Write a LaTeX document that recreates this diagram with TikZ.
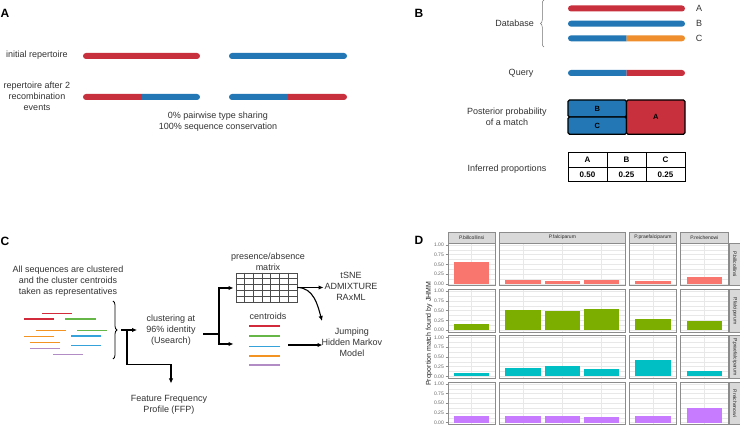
\documentclass[tikz,border=0pt]{standalone}
\usepackage{fontspec}
\setmainfont{Liberation Sans}
\usetikzlibrary{arrows.meta,decorations.pathreplacing,calc}
\definecolor{cred}{HTML}{C8303D}
\definecolor{cblue}{HTML}{2277B4}
\definecolor{corange}{HTML}{EE8E2C}
\definecolor{lred}{HTML}{D22A3A}
\definecolor{lgreen}{HTML}{66B547}
\definecolor{lorange}{HTML}{F39321}
\definecolor{lblue}{HTML}{35A2DA}
\definecolor{lpurple}{HTML}{B28CC4}
\definecolor{rc0}{HTML}{F8766D}
\definecolor{rc1}{HTML}{7CAE00}
\definecolor{rc2}{HTML}{00BFC4}
\definecolor{rc3}{HTML}{C77CFF}
\newcommand{\seqbar}[4]{\fill[#4, rounded corners=3pt] (#1,#3-3) rectangle (#2,#3+3);}
\newcommand{\splitbar}[6]{%
  \begin{scope}\clip (#1-1,#4-4) rectangle (#2,#4+4);
    \fill[#5, rounded corners=3pt] (#1,#4-3) rectangle (#3,#4+3);\end{scope}%
  \begin{scope}\clip (#2,#4-4) rectangle (#3+1,#4+4);
    \fill[#6, rounded corners=3pt] (#1,#4-3) rectangle (#3,#4+3);\end{scope}}
\tikzset{
  lbl/.style={font=\fontsize{9}{11}\selectfont, text=black!80, align=center, inner sep=0pt},
  letter/.style={font=\fontsize{12}{14}\selectfont\bfseries, inner sep=0pt},
  arr/.style={line width=1.1pt, -{Latex[length=5pt,width=4.5pt]}},
  pbox/.style={draw=black, line width=1.2pt, rounded corners=1.5pt, inner sep=0pt,
     font=\fontsize{7.5}{8}\selectfont\bfseries},
  cell/.style={draw=black, line width=0.7pt, minimum width=39pt, minimum height=14.7pt,
     inner sep=0pt, font=\fontsize{8}{9}\selectfont\bfseries},
  cline/.style={line width=1.5pt},
  gmaj/.style={draw=black!9, line width=0.5pt},
  gmin/.style={draw=black!9, line width=0.25pt},
  pborder/.style={draw=black!45, line width=0.5pt},
  strip/.style={fill=black!15, draw=black!45, line width=0.5pt},
  striptxt/.style={font=\fontsize{5}{6}\selectfont, text=black!85, inner sep=0pt},
  ticktxt/.style={font=\fontsize{5}{6}\selectfont, text=black!60, inner sep=0pt, anchor=east},
}
\begin{document}
\begin{tikzpicture}[x=1pt,y=-1pt]
\useasboundingbox (0,0) rectangle (740,427);
\fill[white] (0,0) rectangle (740,427);

% ---------------- Panel A
\node[letter] (LA) at (5,13) {A};
\node[lbl] (a1) at (37,55) {initial repertoire};
\node[lbl] (a2) at (37,96) {repertoire after 2\\recombination\\events};
\seqbar{83}{200}{56}{cred}
\seqbar{229}{347}{56}{cblue}
\splitbar{83}{142}{200}{97}{cred}{cblue}
\splitbar{229}{288}{347}{97}{cblue}{cred}
\node[lbl] (a3) at (218,122) {0\% pairwise type sharing\\100\% sequence conservation};

% ---------------- Panel B
\node[letter] (LB) at (419,13) {B};
\draw[black!55, line width=0.5pt, decorate, decoration={brace, amplitude=3.5pt}] (544,47) -- (544,0);
\node[lbl, anchor=east] (db) at (534,23) {Database};
\seqbar{568}{685}{8.5}{cred}
\seqbar{568}{685}{23.7}{cblue}
\splitbar{568}{626.5}{685}{38.3}{cblue}{corange}
\node[lbl] (bA) at (699,8.5) {A};
\node[lbl] (bB) at (699,23.7) {B};
\node[lbl] (bC) at (699,38.3) {C};
\node[lbl] (q) at (521,73) {Query};
\splitbar{568}{626.5}{685}{73}{cblue}{cred}
\node[lbl] (post) at (507,116.5) {Posterior probability\\of a match};
\node[pbox, fill=cblue, minimum width=58.5pt, minimum height=17pt] (pB) at (597.25,108.5) {B};
\node[pbox, fill=cblue, minimum width=58.5pt, minimum height=17.3pt] (pC) at (597.25,125.65) {C};
\node[pbox, fill=cred, minimum width=58.5pt, minimum height=34.3pt] (pA) at (655.75,117.15) {A};
\node[lbl] (inf) at (507,169) {Inferred proportions};
\node[cell] (hA) at (587.5,159.65) {A};
\node[cell] (hB) at (626.5,159.65) {B};
\node[cell] (hC) at (665.5,159.65) {C};
\node[cell] (vA) at (587.5,174.35) {0.50};
\node[cell] (vB) at (626.5,174.35) {0.25};
\node[cell] (vC) at (665.5,174.35) {0.25};

% ---------------- Panel C
\node[letter] (LC) at (5,241) {C};
\node[lbl] (allseq) at (68,281) {All sequences are clustered\\and the cluster centroids\\taken as representatives};
\draw[cline, lred] (42,313.3) -- (72,313.3);
\draw[cline, lred] (24,319) -- (54,319);
\draw[cline, lgreen] (65,319) -- (96,319);
\draw[cline, lorange] (36,330.3) -- (66,330.3);
\draw[cline, lgreen] (77,330.3) -- (107,330.3);
\draw[cline, lorange] (24,336.7) -- (54,336.7);
\draw[cline, lblue] (71,336) -- (101,336);
\draw[cline, lorange] (30,342.7) -- (60,342.7);
\draw[cline, lblue] (71,345.3) -- (101,345.3);
\draw[cline, lpurple] (30,348.3) -- (60,348.3);
\draw[cline, lpurple] (53,354.3) -- (83,354.3);
\draw[line width=0.8pt, decorate, decoration={brace, amplitude=4pt}] (113,301) -- (113,359);
\coordinate (bt) at (121,330);
\coordinate (jn) at (127,330);
\coordinate (clusIn) at (137,330);
\node[lbl] (clus) at (171,330) {clustering at\\96\% identity\\(Usearch)};
\draw[arr] (bt) -- (clusIn);
\node[lbl] (ffp) at (169,404.5) {Feature Frequency\\Profile (FFP)};
\coordinate (ffpIn) at (171,383.5);
\draw[arr] (jn) |- (171,364.3) -- (ffpIn);
\coordinate (c1) at (203,334);
\coordinate (fork) at (219,334);
\coordinate (toMat) at (233.5,288);
\coordinate (toCent) at (233.5,344);
\draw[line width=1.1pt] (c1) -- (fork);
\draw[arr] (fork) |- (toMat);
\draw[arr] (fork) |- (toCent);
\node[lbl] (matlbl) at (268,261.5) {presence/absence\\matrix};
\node[draw=black!70, line width=0.6pt, minimum width=61pt, minimum height=29pt, inner sep=0pt] (mat) at (266.5,287.5) {};
\foreach \i in {1,...,6}
  \draw[black!70, line width=0.6pt] ($(mat.north west)+(\i*61/7,0)$) -- ($(mat.south west)+(\i*61/7,0)$);
\foreach \j in {1,...,4}
  \draw[black!70, line width=0.6pt] ($(mat.north west)+(0,\j*5.8)$) -- ($(mat.north east)+(0,\j*5.8)$);
\node[lbl] (tsne) at (351,286.5) {tSNE\\ADMIXTURE\\RAxML};
\coordinate (tsneIn) at (323.5,287.5);
\draw[arr] (mat.east) -- (tsneIn);
\node[lbl] (cent) at (268,316) {centroids};
\draw[cline, lred] (249,326) -- (280,326);
\draw[cline, lgreen] (249,336) -- (280,336);
\draw[cline, lblue] (249,346.3) -- (280,346.3);
\draw[cline, lorange] (249,356) -- (280,356);
\draw[cline, lpurple] (249,365) -- (280,365);
\node[lbl] (jhmm) at (352,342) {Jumping\\Hidden Markov\\Model};
\coordinate (jtop) at (322,321);
\draw[arr] (mat.east) to[out=0, in=105] (jtop);
\coordinate (centOut) at (288,345);
\coordinate (jIn) at (322.5,345);
\draw[arr] (centOut) -- (jIn);

% ---------------- Panel D
\node[letter] (LD) at (419,240) {D};
\node[rotate=90, font=\fontsize{7}{8}\selectfont, text=black!85, inner sep=0pt] (ytitle) at (429,333.8) {Proportion match found by JHMM};
\foreach \r/\lab in {0/P.billcollinsi,1/P.falciparum,2/P.praefalciparum,3/P.reichenowi} {
  \pgfmathsetmacro{\T}{243+\r*46.3}
  \pgfmathsetmacro{\B}{\T+42.7}
  \pgfmathsetmacro{\Z}{\B-1.941}
  \foreach \xl/\xr in {448/495.3,499.3/625.4,629.4/676.7,680.7/728} {
    \foreach \v in {0.125,0.375,0.625,0.875} \draw[gmin] (\xl,\Z-38.82*\v) -- (\xr,\Z-38.82*\v);
    \foreach \v in {0,0.25,0.5,0.75,1} \draw[gmaj] (\xl,\Z-38.82*\v) -- (\xr,\Z-38.82*\v);
  }
  \foreach \cx in {471.6,522.9,562.3,601.7,653.0,704.3} \draw[gmaj] (\cx,\T) -- (\cx,\B);
  \foreach \v/\t [count=\i] in {0/0.00,0.25/0.25,0.5/0.50,0.75/0.75,1/1.00} {
    \draw[black!45, line width=0.4pt] (445.5,\Z-38.82*\v) -- (448,\Z-38.82*\v);
    \node[ticktxt] (tk\r-\i) at (444,\Z-38.82*\v) {\t};
  }
  \draw[strip] (729.5,\T) rectangle (741,\B);
  \node[striptxt, rotate=-90] (rs\r) at (734.8,\T+21.35) {\lab};
}
\foreach \r/\cx/\v in {0/471.6/0.55,0/522.9/0.085,0/562.3/0.06,0/601.7/0.085,0/653.0/0.06,0/704.3/0.17,
  1/471.6/0.16,1/522.9/0.51,1/562.3/0.49,1/601.7/0.54,1/653.0/0.28,1/704.3/0.23,
  2/471.6/0.08,2/522.9/0.21,2/562.3/0.27,2/601.7/0.2,2/653.0/0.43,2/704.3/0.15,
  3/471.6/0.18,3/522.9/0.18,3/562.3/0.18,3/601.7/0.14,3/653.0/0.18,3/704.3/0.38} {
  \pgfmathsetmacro{\Z}{243+\r*46.3+42.7-1.941}
  \fill[fill=rc\r] (\cx-17.7,\Z) rectangle (\cx+17.7,\Z-38.82*\v);
}
\foreach \r in {0,...,3} {
  \pgfmathsetmacro{\T}{243+\r*46.3}
  \foreach \xl/\xr in {448/495.3,499.3/625.4,629.4/676.7,680.7/728}
    \draw[pborder] (\xl,\T) rectangle (\xr,\T+42.7);
}
\foreach \xl/\xr/\lab [count=\k] in {448/495.3/P.billcollinsi,499.3/625.4/P.falciparum,629.4/676.7/P.praefalciparum,680.7/728/P.reichenowi} {
  \draw[strip] (\xl,232) rectangle (\xr,243);
  \node[striptxt] (cs\k) at ({(\xl+\xr)/2},237.5) {\lab};
}
\end{tikzpicture}
\end{document}
